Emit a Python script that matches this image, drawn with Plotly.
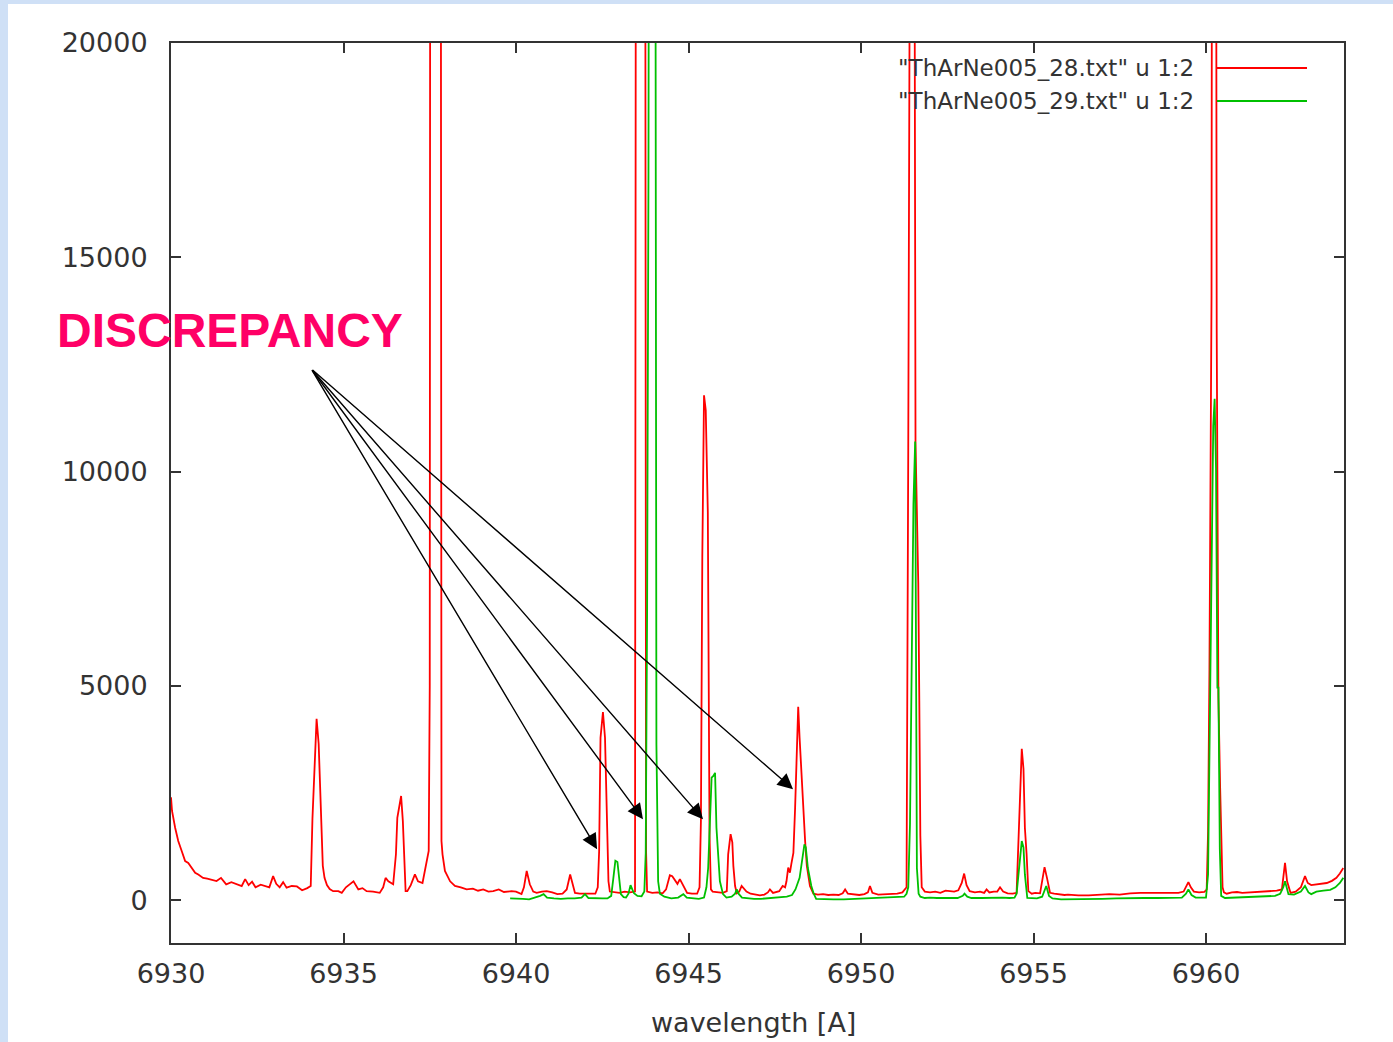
import plotly.graph_objects as go

# ThArNe005_28.txt (u 1:2): wavelength [A] / counts
red_wl = [
    6930.00, 6930.03, 6930.12, 6930.21, 6930.31, 6930.41, 6930.50, 6930.60, 6930.70, 6930.79,
    6930.93, 6931.05, 6931.20, 6931.32, 6931.45, 6931.60, 6931.75, 6931.90, 6932.05, 6932.15,
    6932.25, 6932.35, 6932.45, 6932.60, 6932.75, 6932.85, 6932.96, 6933.05, 6933.15, 6933.25,
    6933.35, 6933.50, 6933.65, 6933.80, 6933.95, 6934.05, 6934.10, 6934.16, 6934.22, 6934.28,
    6934.34, 6934.40, 6934.45, 6934.52, 6934.60, 6934.70, 6934.85, 6934.95, 6935.07, 6935.18,
    6935.29, 6935.43, 6935.55, 6935.67, 6935.86, 6936.05, 6936.15, 6936.22, 6936.30, 6936.44,
    6936.52, 6936.56, 6936.62, 6936.67, 6936.72, 6936.77, 6936.80, 6936.85, 6936.95, 6937.07,
    6937.16, 6937.29, 6937.36, 6937.41, 6937.47, 6937.50, 6937.53, 6937.65, 6937.80, 6937.84,
    6937.87, 6937.94, 6938.09, 6938.23, 6938.40, 6938.57, 6938.75, 6938.90, 6939.05, 6939.20,
    6939.34, 6939.50, 6939.65, 6939.87, 6940.00, 6940.16, 6940.23, 6940.31, 6940.40, 6940.50,
    6940.60, 6940.75, 6940.89, 6941.05, 6941.20, 6941.35, 6941.47, 6941.57, 6941.64, 6941.71,
    6941.85, 6942.00, 6942.15, 6942.30, 6942.37, 6942.41, 6942.45, 6942.52, 6942.58, 6942.63,
    6942.68, 6942.72, 6942.85, 6943.00, 6943.15, 6943.30, 6943.45, 6943.50, 6943.72, 6943.75,
    6943.77, 6943.80, 6943.95, 6944.10, 6944.25, 6944.35, 6944.46, 6944.53, 6944.62, 6944.68,
    6944.75, 6944.85, 6944.96, 6945.10, 6945.25, 6945.32, 6945.36, 6945.40, 6945.45, 6945.50,
    6945.56, 6945.61, 6945.65, 6945.70, 6945.85, 6946.00, 6946.11, 6946.15, 6946.22, 6946.27,
    6946.30, 6946.35, 6946.40, 6946.47, 6946.54, 6946.62, 6946.68, 6946.80, 6946.95, 6947.07,
    6947.20, 6947.30, 6947.36, 6947.45, 6947.63, 6947.73, 6947.80, 6947.84, 6947.89, 6947.94,
    6947.98, 6948.04, 6948.09, 6948.14, 6948.18, 6948.22, 6948.28, 6948.35, 6948.38, 6948.43,
    6948.52, 6948.62, 6948.75, 6948.90, 6949.05, 6949.20, 6949.35, 6949.47, 6949.54, 6949.62,
    6949.80, 6949.95, 6950.10, 6950.20, 6950.26, 6950.33, 6950.50, 6950.70, 6950.90, 6951.05,
    6951.20, 6951.28, 6951.32, 6951.37, 6951.42, 6951.50, 6951.58, 6951.63, 6951.66, 6951.69,
    6951.72, 6951.76, 6951.85, 6952.00, 6952.15, 6952.30, 6952.45, 6952.58, 6952.70, 6952.82,
    6952.92, 6952.99, 6953.06, 6953.15, 6953.30, 6953.45, 6953.57, 6953.64, 6953.72, 6953.85,
    6953.95, 6954.03, 6954.12, 6954.25, 6954.40, 6954.51, 6954.56, 6954.61, 6954.66, 6954.71,
    6954.75, 6954.80, 6954.85, 6954.95, 6955.05, 6955.19, 6955.24, 6955.32, 6955.39, 6955.48,
    6955.60, 6955.75, 6955.90, 6956.00, 6956.30, 6956.60, 6956.90, 6957.20, 6957.50, 6957.80,
    6958.10, 6958.40, 6958.70, 6959.00, 6959.20, 6959.35, 6959.43, 6959.49, 6959.56, 6959.65,
    6959.80, 6959.95, 6960.02, 6960.06, 6960.10, 6960.16, 6960.20, 6960.26, 6960.31, 6960.36,
    6960.41, 6960.44, 6960.48, 6960.52, 6960.60, 6960.75, 6960.90, 6961.05, 6961.25, 6961.45,
    6961.65, 6961.85, 6962.05, 6962.20, 6962.25, 6962.29, 6962.35, 6962.45, 6962.60, 6962.75,
    6962.87, 6962.95, 6963.05, 6963.20, 6963.35, 6963.50, 6963.65, 6963.78, 6963.88, 6963.98,
]
red_counts = [
    2400, 2080, 1690, 1380, 1145, 910, 870, 750, 640, 600,
    520, 500, 460, 445, 520, 370, 420, 380, 330, 490,
    350, 430, 300, 360, 320, 300, 560, 380, 300, 420,
    290, 330, 320, 230, 280, 330, 1900, 3300, 4230, 3650,
    2100, 800, 520, 350, 260, 210, 210, 170, 300, 360,
    440, 250, 280, 210, 200, 170, 300, 520, 440, 370,
    1070, 1920, 2240, 2430, 1850, 910, 210, 210, 350, 600,
    440, 400, 700, 960, 1150, 5000, 50000, 50000, 50000, 1380,
    1070, 680, 440, 330, 300, 250, 270, 220, 250, 200,
    210, 250, 190, 210, 200, 140, 300, 680, 370, 200,
    170, 200, 210, 180, 140, 150, 250, 600, 400, 170,
    150, 150, 140, 150, 300, 1140, 3790, 4390, 3790, 2000,
    440, 200, 180, 170, 200, 180, 200, 50000, 50000, 6600,
    1140, 200, 170, 180, 160, 250, 580, 560, 440, 380,
    490, 350, 170, 150, 150, 300, 1850, 8000, 11780, 11430,
    9050, 1500, 250, 200, 180, 170, 210, 1070, 1540, 1350,
    800, 330, 160, 200, 330, 250, 200, 150, 120, 110,
    130, 180, 250, 170, 210, 330, 300, 440, 760, 640,
    840, 1100, 2150, 3400, 4510, 3790, 2780, 1770, 1380, 800,
    330, 150, 130, 140, 120, 130, 120, 160, 250, 150,
    130, 120, 140, 180, 330, 170, 130, 140, 150, 150,
    180, 250, 300, 10570, 45000, 45000, 10700, 8300, 7400, 4650,
    1500, 300, 200, 180, 200, 170, 220, 210, 200, 230,
    400, 620, 350, 210, 180, 200, 170, 250, 180, 200,
    200, 300, 200, 160, 150, 170, 1190, 2470, 3530, 3060,
    1690, 1070, 210, 150, 170, 160, 370, 770, 520, 170,
    150, 130, 120, 130, 110, 110, 120, 140, 130, 160,
    170, 170, 160, 170, 170, 200, 350, 420, 300, 200,
    180, 190, 250, 1600, 5400, 14100, 45000, 45000, 13340, 4720,
    2620, 1500, 300, 180, 150, 180, 190, 170, 180, 190,
    200, 200, 220, 250, 600, 870, 440, 170, 200, 300,
    560, 400, 350, 370, 390, 400, 450, 520, 620, 750,
]

# ThArNe005_29.txt (u 1:2): wavelength [A] / counts
green_wl = [
    6939.83, 6940.00, 6940.20, 6940.38, 6940.55, 6940.70, 6940.80, 6940.90, 6941.10, 6941.30,
    6941.50, 6941.70, 6941.90, 6942.00, 6942.10, 6942.30, 6942.50, 6942.65, 6942.76, 6942.82,
    6942.88, 6942.94, 6942.99, 6943.04, 6943.12, 6943.19, 6943.26, 6943.32, 6943.37, 6943.42,
    6943.52, 6943.64, 6943.72, 6943.76, 6943.80, 6943.84, 6943.88, 6944.00, 6944.04, 6944.07,
    6944.12, 6944.17, 6944.30, 6944.50, 6944.70, 6944.85, 6944.95, 6945.10, 6945.30, 6945.45,
    6945.52, 6945.57, 6945.62, 6945.67, 6945.72, 6945.77, 6945.81, 6945.86, 6945.91, 6946.00,
    6946.10, 6946.25, 6946.35, 6946.40, 6946.45, 6946.55, 6946.70, 6946.90, 6947.10, 6947.30,
    6947.50, 6947.70, 6947.85, 6948.00, 6948.10, 6948.22, 6948.31, 6948.36, 6948.40, 6948.46,
    6948.56, 6948.63, 6948.70, 6948.90, 6949.20, 6949.50, 6949.80, 6950.10, 6950.40, 6950.70,
    6950.90, 6951.10, 6951.25, 6951.32, 6951.37, 6951.42, 6951.47, 6951.52, 6951.57, 6951.62,
    6951.67, 6951.72, 6951.85, 6952.00, 6952.20, 6952.40, 6952.60, 6952.80, 6952.95, 6953.00,
    6953.08, 6953.20, 6953.50, 6953.80, 6954.10, 6954.30, 6954.45, 6954.51, 6954.56, 6954.62,
    6954.66, 6954.71, 6954.75, 6954.82, 6954.95, 6955.10, 6955.25, 6955.37, 6955.45, 6955.55,
    6955.80, 6956.20, 6956.60, 6957.00, 6957.40, 6957.80, 6958.20, 6958.60, 6959.00, 6959.30,
    6959.42, 6959.49, 6959.58, 6959.70, 6959.85, 6960.00, 6960.06, 6960.11, 6960.16, 6960.21,
    6960.25, 6960.29, 6960.33, 6960.36, 6960.40, 6960.44, 6960.55, 6960.80, 6961.10, 6961.40,
    6961.70, 6962.00, 6962.15, 6962.24, 6962.29, 6962.35, 6962.39, 6962.55, 6962.75, 6962.87,
    6962.97, 6963.05, 6963.20, 6963.40, 6963.60, 6963.75, 6963.88, 6963.98,
]
green_counts = [
    40, 40, 30, 20, 60, 100, 140, 60, 40, 30,
    40, 40, 60, 140, 50, 40, 40, 40, 100, 500,
    920, 890, 440, 140, 70, 60, 150, 350, 250, 160,
    100, 90, 200, 1100, 6680, 17000, 40000, 40000, 25000, 3640,
    440, 150, 80, 40, 60, 140, 60, 40, 30, 60,
    300, 750, 1770, 2860, 2900, 2970, 1690, 910, 440, 140,
    60, 80, 150, 250, 150, 60, 40, 30, 30, 40,
    50, 60, 80, 120, 250, 520, 990, 1300, 1230, 750,
    330, 150, 30, 20, 20, 20, 30, 30, 40, 50,
    60, 70, 80, 150, 300, 1770, 5500, 9250, 10700, 750,
    150, 80, 50, 60, 50, 50, 40, 50, 100, 150,
    80, 50, 50, 60, 60, 50, 60, 150, 600, 1200,
    1380, 1230, 600, 50, 40, 40, 80, 330, 100, 40,
    20, 20, 20, 30, 40, 50, 50, 50, 50, 60,
    150, 250, 120, 60, 60, 60, 600, 4140, 7410, 11070,
    11700, 10070, 4960, 4960, 1200, 100, 50, 60, 70, 80,
    90, 100, 150, 300, 440, 250, 140, 130, 200, 330,
    180, 140, 200, 220, 240, 300, 400, 520,
]

series_names = ['"ThArNe005_28.txt" u 1:2', '"ThArNe005_29.txt" u 1:2']
series_colors = ["#ff0000", "#00c000"]

x_ticks = [6930, 6935, 6940, 6945, 6950, 6955, 6960]
y_ticks = [0, 5000, 10000, 15000, 20000]
x_range = [6930, 6964]
y_range = [-1000, 20000]

# points the arrows aim at, and the common starting point beside the label
arrow_tail = (6934.06, 12400)
arrow_heads_wl = [6942.35, 6943.68, 6945.42, 6948.03]
arrow_heads_counts = [1190, 1890, 1890, 2590]

FONT = "DejaVu Sans"
TXT = "#333333"

fig = go.Figure()
for wl, cnt, name, col in zip([red_wl, green_wl], [red_counts, green_counts],
                              series_names, series_colors):
    fig.add_trace(go.Scatter(x=wl, y=cnt, mode="lines", name=name,
                             line=dict(color=col, width=1.8), showlegend=False))

# frame-style axes, ticks inside on all four sides
axis_common = dict(showline=True, linecolor="#333333", linewidth=2, mirror="ticks",
                   ticks="inside", ticklen=10, tickwidth=2, tickcolor="#333333",
                   showgrid=False, zeroline=False,
                   tickfont=dict(family=FONT, size=27, color=TXT))
fig.update_xaxes(range=x_range, tickvals=x_ticks, ticktext=[str(v) for v in x_ticks],
                 ticklabelstandoff=6, **axis_common)
fig.update_yaxes(range=y_range, tickvals=y_ticks, ticktext=[str(v) for v in y_ticks],
                 ticklabelstandoff=16, **axis_common)

W, H = 1393, 1042
L, R, T, B = 171, 49, 43, 99
pw, ph = W - L - R, H - T - B


def px(xp):
    return (xp - L) / pw


def py(yp):
    return (H - B - yp) / ph


shapes = [
    # white sheet over the light-blue page
    dict(type="rect", xref="paper", yref="paper", x0=px(8), x1=px(W + 10),
         y0=py(H + 10), y1=py(4), fillcolor="white", line_width=0, layer="below"),
]
annotations = []

# legend: text right-aligned, sample line on the right
for i, (name, col) in enumerate(zip(series_names, series_colors)):
    yy = py(68 + 33 * i)
    annotations.append(dict(xref="paper", yref="paper", x=px(1196), y=yy, text=name,
                            showarrow=False, xanchor="right", yanchor="middle",
                            font=dict(family=FONT, size=23, color=TXT)))
    shapes.append(dict(type="line", xref="paper", yref="paper", x0=px(1217), x1=px(1307),
                       y0=yy, y1=yy, line=dict(color=col, width=1.8)))

annotations.append(dict(xref="paper", yref="paper", x=px(753), y=py(1022),
                        text="wavelength [A]", showarrow=False, xanchor="center",
                        yanchor="middle", font=dict(family=FONT, size=27, color=TXT)))

annotations.append(dict(xref="paper", yref="paper", x=px(55), y=py(330),
                        text="<b>DISCREPANCY</b>", showarrow=False, xanchor="left",
                        yanchor="middle",
                        font=dict(family="Liberation Sans", size=48, color="#ff0066")))

for hx, hy in zip(arrow_heads_wl, arrow_heads_counts):
    annotations.append(dict(x=hx, y=hy, xref="x", yref="y", ax=arrow_tail[0], ay=arrow_tail[1],
                            axref="x", ayref="y", text="", showarrow=True, arrowhead=2,
                            arrowsize=2.2, arrowwidth=1.4, arrowcolor="black", standoff=0))

fig.update_layout(width=W, height=H, margin=dict(l=L, r=R, t=T, b=B),
                  paper_bgcolor="#cfe0f6", plot_bgcolor="white",
                  shapes=shapes, annotations=annotations, showlegend=False)

fig.write_html("out.html")
